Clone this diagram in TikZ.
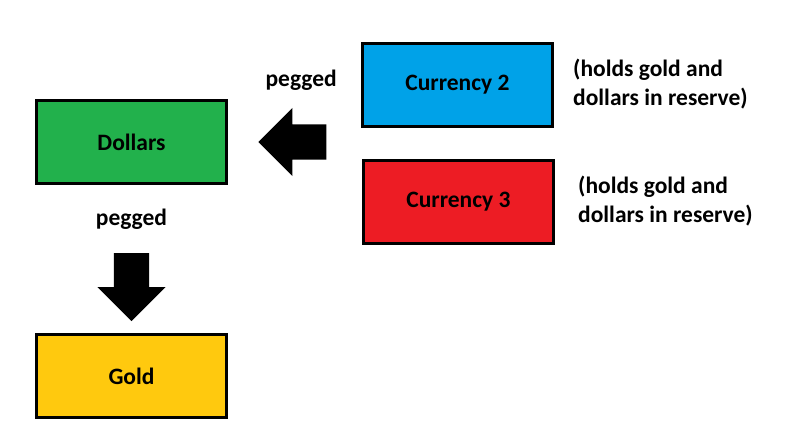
\documentclass[tikz,border=0pt]{standalone}
\usepackage{fontspec}
\setmainfont{Carlito}
\usepackage{xcolor}
\usetikzlibrary{positioning, shapes.arrows}

\definecolor{paintblue}{RGB}{0,162,232}
\definecolor{paintgreen}{RGB}{34,177,76}
\definecolor{paintred}{RGB}{237,28,36}
\definecolor{paintgold}{RGB}{255,201,14}

\tikzset{
    money/.style={draw, line width=3pt, minimum width=190pt, minimum height=83pt, font=\fontsize{23.5}{28}\selectfont\bfseries},
    peglabel/.style={inner sep=0pt, font=\fontsize{23.5}{28}\selectfont\bfseries},
    reserve/.style={inner sep=0pt, align=left, font=\fontsize{23.5}{29}\selectfont\bfseries},
    blockarrow/.style={single arrow, fill=black, minimum height=68pt, minimum width=68pt, single arrow head extend=16.5pt, single arrow tip angle=90}
}

\begin{document}
\begin{tikzpicture}[x=1pt, y=-1pt]
                \useasboundingbox (0,0) rectangle (785,431);
                \node[money, fill=paintgreen] (dollars) at (131.5,142) {Dollars};
                \node[money, below=148pt of dollars, fill=paintgold] (gold) {Gold};
                \node[money, fill=paintblue] (cur2) at (457.5,84.5) {Currency 2};
                \node[money, below=31pt of cur2, xshift=1pt, fill=paintred] (cur3) {Currency 3};
                % arrows and labels
                \node[blockarrow, inner xsep=17.5pt, inner ysep=0pt, shape border rotate=270, below=68pt of dollars, anchor=tail] (pegdown) {};
                \node[peglabel, below=24pt of dollars] (pegdownlbl) {pegged};
                \node[blockarrow, inner xsep=0pt, inner ysep=17.5pt, shape border rotate=180, right=30pt of dollars, anchor=tip] (pegleft) {};
                \node[peglabel, above=51pt of pegleft.center] (pegleftlbl) {pegged};
                \node[reserve, right=19pt of cur2] (cur2note) {(holds gold and\\dollars in reserve)};
                \node[reserve, right=23pt of cur3] (cur3note) {(holds gold and\\dollars in reserve)};
            \end{tikzpicture}
\end{document}
